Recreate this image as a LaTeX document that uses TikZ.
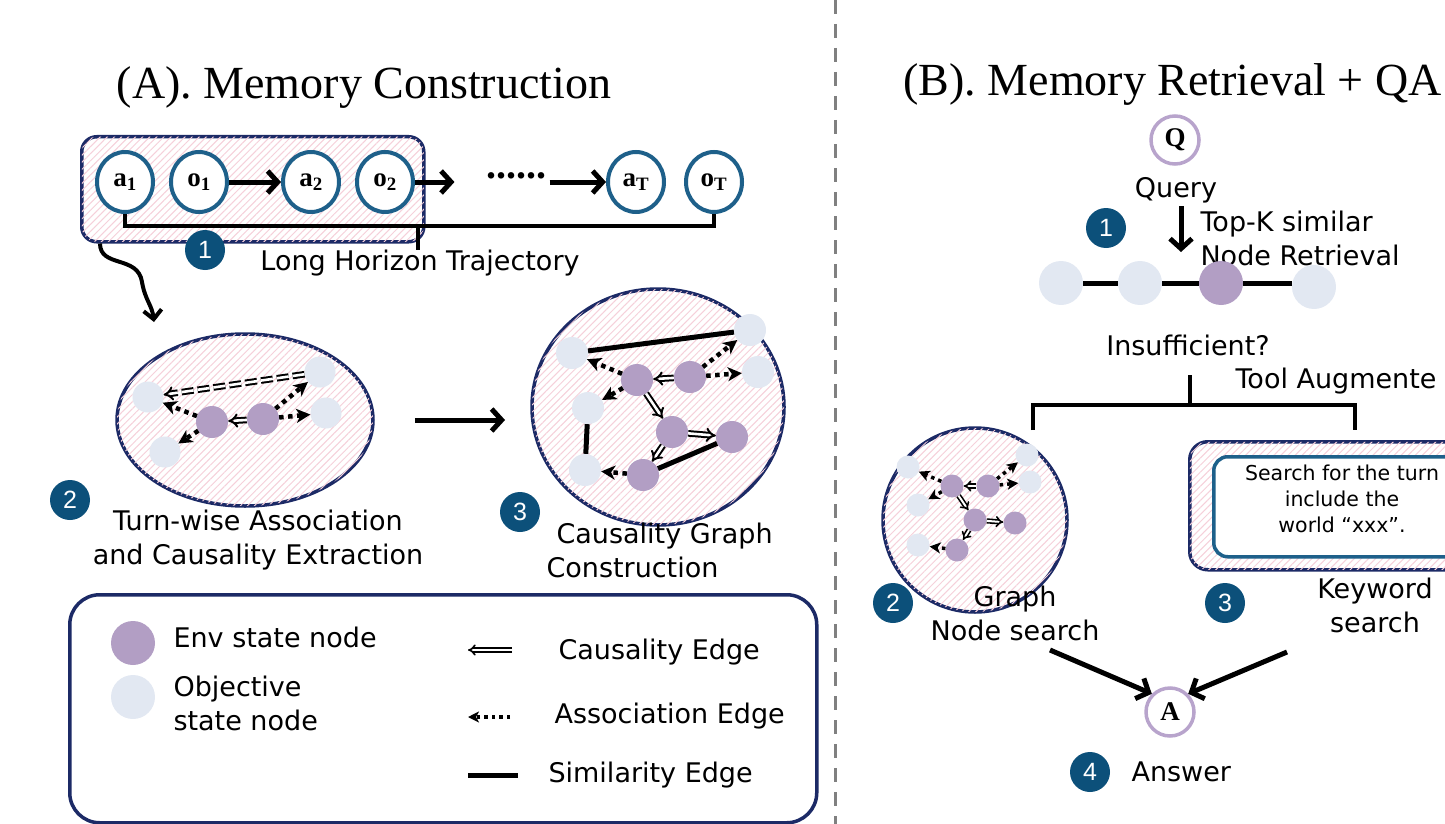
\documentclass[tikz,border=0pt]{standalone}
\usepackage{fontspec}
\setmainfont{Liberation Serif}
\newfontfamily\handfont{DejaVu Sans}
\newfontfamily\badgefont{Liberation Sans}
\usetikzlibrary{shapes.geometric, arrows.meta, positioning, calc, patterns.meta}
\definecolor{navyline}{RGB}{28,42,102}
\definecolor{tealline}{RGB}{30,96,138}
\definecolor{badgeblue}{RGB}{12,80,122}
\definecolor{envnode}{RGB}{178,158,196}
\definecolor{objnode}{RGB}{226,232,242}
\definecolor{qaring}{RGB}{184,164,204}
\definecolor{hatchpink}{RGB}{246,208,218}

\begin{document}
\begin{tikzpicture}[
    x=1pt, y=-1pt,
    hand/.style={font=\handfont\fontsize{27}{34}\selectfont},
    title/.style={font=\fontsize{46}{50}\selectfont},
    hatched/.style={fill=white, postaction={pattern={Lines[angle=45, distance=5pt, line width=1pt]}, pattern color=hatchpink}},
    traj/.style={ellipse, draw=tealline, line width=4pt, fill=white, minimum width=56pt, minimum height=60pt, inner sep=0pt, font=\fontsize{27}{27}\selectfont\bfseries},
    envn/.style={circle, fill=envnode, minimum size=#1, inner sep=0pt},
    envn/.default=32pt,
    objn/.style={circle, fill=objnode, minimum size=#1, inner sep=0pt},
    objn/.default=32pt,
    badge/.style={circle, fill=badgeblue, text=white, minimum size=40pt, inner sep=0pt, font=\badgefont\fontsize{25}{25}\selectfont},
    qa/.style={circle, draw=qaring, line width=3.5pt, minimum size=48pt, inner sep=0pt, font=\fontsize{27}{27}\selectfont\bfseries},
    bigarrow/.style={line width=5pt, -{Straight Barb[length=10pt, width=22pt]}},
    cause/.style={double, double distance=2.6pt, line width=2pt, -{Implies}},
    smallcause/.style={double, double distance=2pt, line width=1.6pt, -{Implies}},
    assoc/.style={line width=4.5pt, dash pattern=on 4.5pt off 4.5pt, -{Stealth[length=14pt, width=14pt, inset=4pt]}},
    smallassoc/.style={line width=3.5pt, dash pattern=on 3.5pt off 4pt, -{Stealth[length=11pt, width=11pt, inset=3pt]}},
    simil/.style={line width=5pt},
    bracket/.style={line width=4.5pt}
]
\useasboundingbox (0,0) rectangle (1445,824);

% divider
\draw[gray, line width=3pt, dash pattern=on 14pt off 10pt] (835,0) -- (835,824);

% ---------- (A) memory construction ----------
\node[title] (titleA) at (364,88) {(A). Memory Construction};

\node[rectangle, rounded corners=15pt, hatched, draw=navyline, line width=3.5pt, minimum width=342pt, minimum height=105pt, anchor=north west] (trajbox) at (80,135) {};
\node[traj] (a1) at (125,182) {a\textsubscript{1}};
\node[traj, right=14pt of a1] (o1) {o\textsubscript{1}};
\node[traj, right=52pt of o1] (a2) {a\textsubscript{2}};
\node[traj, right=14pt of a2] (o2) {o\textsubscript{2}};
\node[font=\fontsize{40}{40}\selectfont\bfseries] (dots) at (516,176) {......};
\node[traj] (aT) at (636,182) {a\textsubscript{T}};
\node[traj, right=18pt of aT] (oT) {o\textsubscript{T}};

\draw[bigarrow] (o1) -- (a2);
\draw[bigarrow, shorten >=28pt] (o2) -- (dots.west |- o2);
\draw[bigarrow] (dots.east |- aT) -- (aT);

\draw[bracket] (a1.south) -- ++(0,12) -| (oT.south);
\coordinate (tick) at (418,224);
\draw[bracket] (tick) -- ++(0,26);

\node[badge] (b1) at (205,250) {1};
\node[hand] (longlbl) at (420,263) {Long Horizon Trajectory};

\draw[line width=4pt, -{Straight Barb[length=9pt, width=18pt]}] ([xshift=20pt]trajbox.south west) .. controls (100,268) and (138,255) .. (142,282) .. controls (145,300) and (152,305) .. (154,322);

% turn-wise extraction
\node[ellipse, hatched, draw=navyline, line width=3.5pt, minimum width=256pt, minimum height=172pt] (turnwise) at (245,420) {};
\node[objn=31pt] (e2o1) at (148,397) {};
\node[objn=31pt] (e2o2) at (320,372) {};
\node[objn=31pt] (e2o3) at (326,413) {};
\node[objn=31pt] (e2o4) at (165,452) {};
\node[envn] (e2p1) at (212,422) {};
\node[envn] (e2p2) at (263,419) {};
\draw[cause, dash pattern=on 12pt off 4pt] (e2o2) -- (e2o1);
\draw[cause] (e2p2) -- (e2p1);
\draw[assoc] (e2p1) -- (e2o1);
\draw[assoc] (e2p1) -- (e2o4);
\draw[assoc] (e2p2) -- (e2o2);
\draw[assoc] (e2p2) -- (e2o3);

\node[badge] (b2) at (70,500) {2};
\node[hand, align=center] (turnlbl) at (258,540) {Turn-wise Association\\and Causality Extraction};

\draw[bigarrow, shorten <=40pt, shorten >=28pt] (turnwise.east) -- (turnwise.east -| 533,0);

% causality graph
\node[ellipse, hatched, draw=navyline, line width=3.5pt, minimum width=252pt, minimum height=236pt] (causal) at (658,407) {};
\node[objn] (c3o1) at (572,353) {};
\node[objn] (c3o2) at (750,330) {};
\node[objn] (c3o3) at (758,372) {};
\node[objn] (c3o4) at (588,408) {};
\node[objn] (c3o5) at (585,470) {};
\node[envn] (c3p1) at (637,380) {};
\node[envn] (c3p2) at (690,377) {};
\node[envn] (c3p3) at (672,432) {};
\node[envn] (c3p4) at (732,437) {};
\node[envn] (c3p5) at (643,475) {};
\draw[simil] (c3o1) -- (c3o2);
\draw[simil] (c3o4) -- (c3o5);
\draw[simil] (c3p5) -- (c3p4);
\draw[assoc] (c3p2) -- (c3o2);
\draw[assoc] (c3p2) -- (c3o3);
\draw[assoc] (c3p1) -- (c3o1);
\draw[assoc] (c3p1) -- (c3o4);
\draw[assoc] (c3p5) -- (c3o5);
\draw[cause] (c3p2) -- (c3p1);
\draw[cause] (c3p1) -- (c3p3);
\draw[cause] (c3p3) -- (c3p4);
\draw[cause] (c3p3) -- (c3p5);

\node[badge] (b3) at (520,512) {3};
\node[hand, align=left, anchor=west] (causallbl) at (543,550) {\hspace*{10pt}Causality Graph\\Construction};

% legend
\node[rectangle, rounded corners=30pt, draw=navyline, line width=3.5pt, minimum width=747pt, minimum height=228pt, anchor=north west] (legend) at (68,593) {};
\node[envn=44pt] (legenv) at (133,643) {};
\node[hand, anchor=west] (legenvlbl) at (170,637) {Env state node};
\node[objn=44pt] (legobj) at (133,697) {};
\node[hand, anchor=west, align=left] (legobjlbl) at (170,703) {Objective\\state node};
\coordinate (causeR) at (512,650);
\coordinate (causeL) at (468,650);
\draw[smallcause] (causeR) -- (causeL);
\node[hand, anchor=west] (causelbl) at (555,652) {Causality Edge};
\coordinate (assocR) at (510,717);
\coordinate (assocL) at (468,717);
\draw[smallassoc] (assocR) -- (assocL);
\node[hand, anchor=west] (assoclbl) at (551,716) {Association Edge};
\coordinate (similL) at (468,775);
\coordinate (similR) at (518,775);
\draw[simil] (similL) -- (similR);
\node[hand, anchor=west] (simillbl) at (545,775) {Similarity Edge};

% ---------- (B) retrieval + QA ----------
\node[title, anchor=west] (titleB) at (900,85) {(B). Memory Retrieval + QA};

\node[qa] (query) at (1175,140) {Q};
\node[hand] (querylbl) at (1176,190) {Query};
\coordinate (qdown) at (1181,252);
\draw[bigarrow] (querylbl.south -| qdown) -- (qdown);
\node[badge] (rb1) at (1106,228) {1};
\node[hand, align=left, anchor=west] (topklbl) at (1197,238) {Top-K similar\\Node Retrieval};

\node[objn=44pt] (r1) at (1061,283) {};
\node[objn=44pt] (r2) at (1140,283) {};
\node[envn=44pt] (r3) at (1221,283) {};
\node[objn=44pt] (r4) at (1314,287) {};
\draw[simil] (r1) -- (r2);
\draw[simil] (r2) -- (r3);
\draw[simil] (r3) -- (r4.west |- r3);

\node[hand] (insuflbl) at (1188,345) {Insufficient?};
\node[hand, anchor=west] (toollbl) at (1232,381) {Tool Augmente};

\coordinate (brtop) at (1190,375);
\draw[bracket] (brtop) -- (1190,405);
\draw[bracket] (1033,430) -- (1033,405) -- (1355,405) -- (1355,430);

% graph node search
\node[circle, hatched, draw=navyline, line width=3.5pt, minimum size=184pt] (graphsearch) at (975,520) {};
\node[objn=23pt] (go1) at (908,467) {};
\node[objn=23pt] (go2) at (1027,455) {};
\node[objn=23pt] (go3) at (1030,482) {};
\node[objn=23pt] (go4) at (918,505) {};
\node[objn=23pt] (go5) at (918,545) {};
\node[envn=23pt] (gp1) at (952,486) {};
\node[envn=23pt] (gp2) at (988,486) {};
\node[envn=23pt] (gp3) at (975,520) {};
\node[envn=23pt] (gp4) at (1015,523) {};
\node[envn=23pt] (gp5) at (957,550) {};
\draw[smallassoc] (gp2) -- (go2);
\draw[smallassoc] (gp2) -- (go3);
\draw[smallassoc] (gp1) -- (go1);
\draw[smallassoc] (gp1) -- (go4);
\draw[smallassoc] (gp5) -- (go5);
\draw[smallcause] (gp2) -- (gp1);
\draw[smallcause] (gp1) -- (gp3);
\draw[smallcause] (gp3) -- (gp4);
\draw[smallcause] (gp3) -- (gp5);

% keyword search
\node[rectangle, rounded corners=18pt, hatched, draw=navyline, line width=3.5pt, minimum width=290pt, minimum height=128pt, anchor=north west] (kwouter) at (1188,440) {};
\node[rectangle, rounded corners=14pt, fill=white, draw=tealline, line width=3.5pt, minimum width=270pt, minimum height=100pt, anchor=north west] (kwinner) at (1212,455) {};
\node[font=\handfont\fontsize{20.5}{26}\selectfont, align=center] (kwtext) at (1342,499) {Search for the turn\\include the\\world “xxx”.};

\node[badge] (rb2) at (893,603) {2};
\node[hand, align=center] (graphlbl) at (1015,613) {Graph\\Node search};
\node[badge] (rb3) at (1225,603) {3};
\node[hand, align=center] (kwlbl) at (1375,605) {Keyword\\search};

\node[qa] (answer) at (1170,712) {A};
\coordinate (fromgraph) at (1050,650);
\coordinate (fromkw) at (1287,652);
\draw[bigarrow] (fromgraph) -- (answer.north west);
\draw[bigarrow] (fromkw) -- (answer.north east);
\node[badge] (rb4) at (1090,772) {4};
\node[hand, anchor=west] (answerlbl) at (1128,772) {Answer};

\end{tikzpicture}
\end{document}
